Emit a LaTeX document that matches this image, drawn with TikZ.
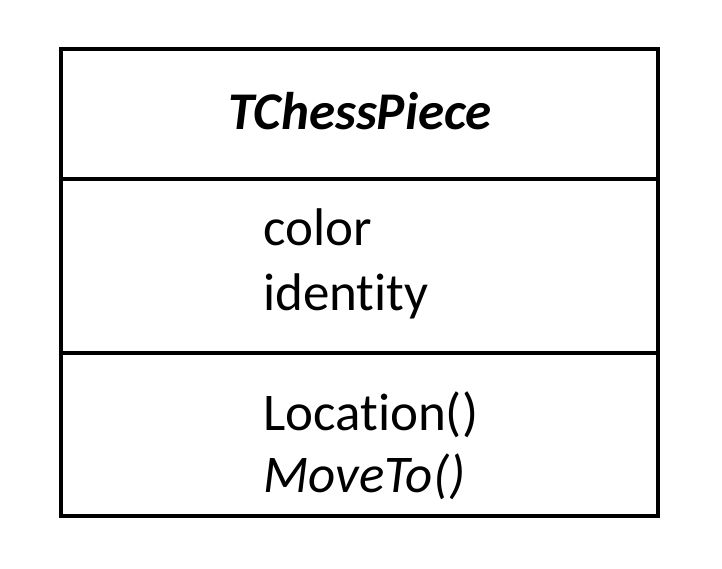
\documentclass[tikz,border=0pt]{standalone}
\usepackage{fontspec}
\setmainfont[Ligatures={NoCommon,NoRequired,NoContextual},RawFeature={-liga;-dlig;-calt}]{Carlito}
\begin{document}
\begin{tikzpicture}[x=1pt,y=-1pt,
  part/.style={draw=black, line width=3.6pt, minimum width=597pt, inner sep=0pt, outer sep=0pt},
  label/.style={inner sep=0pt, font=\fontsize{53}{63}\selectfont},
  member/.style={label, anchor=base west}]
  \useasboundingbox (0,0) rectangle (722,569);
  % class compartments: name, attributes, operations
  \node[part, minimum height=130pt, anchor=north west] (head) at (61,49) {};
  \node[part, minimum height=174pt, anchor=north west] (attrs) at (61,179) {};
  \node[part, minimum height=163pt, anchor=north west] (ops) at (61,353) {};
  % class name
  \node[label, anchor=base] (name) at (360,130) {\textbf{\textit{TChessPiece}}};
  % attributes
  \node[member] (color) at (263,246) {color};
  \node[member] (identity) at (263,310) {identity};
  % operations
  \node[member] (loc) at (263,430) {Location()};
  \node[member] (move) at (263,492) {\textit{MoveTo()}};
\end{tikzpicture}
\end{document}
